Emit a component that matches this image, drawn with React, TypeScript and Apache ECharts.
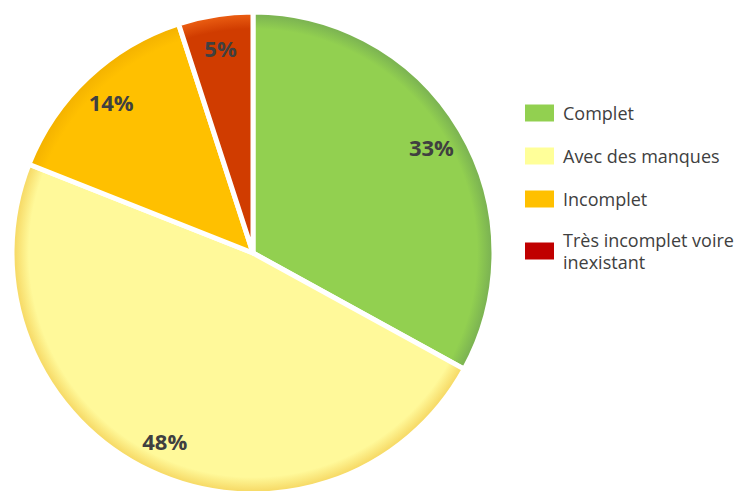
import React, { useEffect, useRef } from "react";
import * as echarts from "echarts";

const categories = ["Complet", "Avec des manques", "Incomplet", "Très incomplet voire inexistant"];
const values = [33, 48, 14, 5];
const sliceColors = ["#92D050", "#FFF99A", "#FFC000", "#D03C00"];
const edgeColors = ["#7DB552", "#F7DC6A", "#F5B400", "#E85A10"];
const legendColors = ["#92D050", "#FFFF99", "#FFC000", "#C00000"];
const legendLabels = ["Complet", "Avec des manques", "Incomplet", "Très incomplet voire\ninexistant"];

const CX = 253;
const CY = 253;
const R = 241;
const LABEL_RATIO = 0.86;

export default function App() {
  const ref = useRef<HTMLDivElement>(null);
  useEffect(() => {
    const chart = echarts.init(ref.current!, undefined, { renderer: "svg" });
    const total = values.reduce((a, b) => a + b, 0);
    const mids: number[] = [];
    let cum = 0;
    values.forEach((v) => {
      mids.push(((cum + v / 2) / total) * Math.PI * 2);
      cum += v;
    });
    const data = categories.map((name, i) => ({
      name,
      value: values[i],
      itemStyle: {
        color: {
          type: "radial",
          x: CX,
          y: CY,
          r: R,
          global: true,
          colorStops: [
            { offset: 0, color: sliceColors[i] },
            { offset: 0.93, color: sliceColors[i] },
            { offset: 0.985, color: edgeColors[i] },
            { offset: 1, color: edgeColors[i] },
          ],
        },
      },
    }));
    chart.setOption({
      animation: false,
      legend: {
        orient: "vertical",
        left: 523,
        top: 100,
        padding: 0,
        itemWidth: 31,
        itemHeight: 19,
        itemGap: 17,
        icon: "rect",
        data: categories.map((name, i) => ({
          name,
          itemStyle: { color: legendColors[i] },
          textStyle: { lineHeight: i === categories.length - 1 ? 22 : 26 },
        })),
        formatter: (n: string) => legendLabels[categories.indexOf(n)],
        textStyle: { fontFamily: "Open Sans", fontSize: 18, color: "#404040", padding: [0, 0, 0, 3] },
        selectedMode: false,
      },
      series: [
        {
          type: "pie",
          center: [CX, CY],
          radius: [0, R],
          startAngle: 90,
          clockwise: true,
          silent: true,
          avoidLabelOverlap: false,
          itemStyle: { borderColor: "#fff", borderWidth: 5 },
          label: {
            show: true,
            position: "outside",
            alignTo: "none",
            formatter: "{c}%",
            fontFamily: "Open Sans",
            fontWeight: "bold",
            fontSize: 22,
            color: "#404040",
          },
          labelLayout: (p: any) => {
            const a = mids[p.dataIndex];
            return {
              x: CX + Math.sin(a) * R * LABEL_RATIO,
              y: CY - Math.cos(a) * R * LABEL_RATIO,
              align: "center",
              verticalAlign: "middle",
            };
          },
          labelLine: { show: false },
          data,
        },
      ],
    });
    return () => chart.dispose();
  }, []);
  return <div ref={ref} style={{ position: "absolute", left: 0, top: 0, width: 740, height: 491, background: "#fff" }} />;
}
